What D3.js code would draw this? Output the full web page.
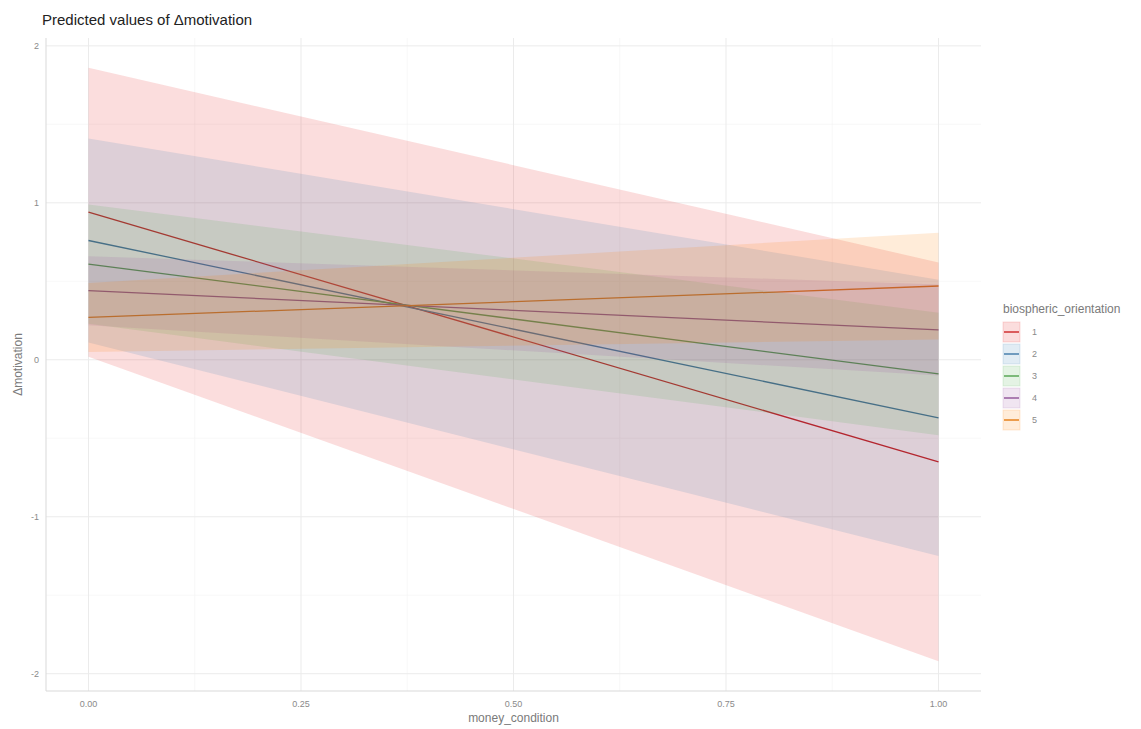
<!DOCTYPE html>
<html>
<head>
<meta charset="utf-8">
<script src="https://cdn.jsdelivr.net/npm/d3@7"></script>
<style>
  body { margin: 0; background: #fff; }
  svg { font-family: "Liberation Sans", Arial, sans-serif; }
</style>
</head>
<body>
<svg id="chart" width="1141" height="729"></svg>
<script>
// data
const moneyCondition = [0, 1];
const groups = ['1', '2', '3', '4', '5'];
const predicted = [
  [0.94, -0.65],
  [0.76, -0.37],
  [0.61, -0.09],
  [0.44, 0.19],
  [0.27, 0.47]
];
const confLow = [
  [0.02, -1.92],
  [0.11, -1.25],
  [0.23, -0.48],
  [0.22, -0.10],
  [0.05, 0.13]
];
const confHigh = [
  [1.86, 0.62],
  [1.41, 0.51],
  [0.99, 0.30],
  [0.66, 0.48],
  [0.49, 0.81]
];
const xTicks = [0, 0.25, 0.5, 0.75, 1];
const xMinor = [0.125, 0.375, 0.625, 0.875];
const yTicks = [-2, -1, 0, 1, 2];
const yMinor = [-1.5, -0.5, 0.5, 1.5];
const colors = ['#E41A1C', '#377EB8', '#4DAF4A', '#984EA3', '#FF7F00'];

const svg = d3.select('#chart');
const pLeft = 46, pRight = 981, pTop = 38, pBottom = 691;

const x = d3.scaleLinear().domain([-0.05, 1.05]).range([pLeft, pRight]);
const y = d3.scaleLinear().domain([-2.11, 2.05]).range([pBottom, pTop]);

// grid
const grid = svg.append('g');
xMinor.forEach(v => grid.append('line')
  .attr('x1', x(v)).attr('x2', x(v)).attr('y1', pTop).attr('y2', pBottom)
  .attr('stroke', '#f3f3f3').attr('stroke-width', 0.6));
yMinor.forEach(v => grid.append('line')
  .attr('x1', pLeft).attr('x2', pRight).attr('y1', y(v)).attr('y2', y(v))
  .attr('stroke', '#f3f3f3').attr('stroke-width', 0.6));
xTicks.forEach(v => grid.append('line')
  .attr('x1', x(v)).attr('x2', x(v)).attr('y1', pTop).attr('y2', pBottom)
  .attr('stroke', '#ebebeb').attr('stroke-width', 1));
yTicks.forEach(v => grid.append('line')
  .attr('x1', pLeft).attr('x2', pRight).attr('y1', y(v)).attr('y2', y(v))
  .attr('stroke', '#ebebeb').attr('stroke-width', 1));

// axis lines
svg.append('line').attr('x1', pLeft).attr('x2', pLeft).attr('y1', pTop).attr('y2', pBottom)
  .attr('stroke', '#d9d9d9');
svg.append('line').attr('x1', pLeft).attr('x2', pRight).attr('y1', pBottom).attr('y2', pBottom)
  .attr('stroke', '#d9d9d9');

// lines first, ribbons drawn over them (tints the lines like the original)
const line = d3.line().x(d => x(d.x)).y(d => y(d.y));
groups.forEach(function(g, i) {
  const pts = moneyCondition.map((m, j) => ({ x: m, y: predicted[i][j] }));
  svg.append('path')
    .datum(pts)
    .attr('d', line)
    .attr('fill', 'none')
    .attr('stroke', d3.color(colors[i]).darker(0.4))
    .attr('stroke-width', 1.3);
});

const area = d3.area()
  .x(d => x(d.x))
  .y0(d => y(d.lo))
  .y1(d => y(d.hi));

groups.forEach(function(g, i) {
  const pts = moneyCondition.map((m, j) => ({ x: m, lo: confLow[i][j], hi: confHigh[i][j] }));
  svg.append('path')
    .datum(pts)
    .attr('d', area)
    .attr('fill', colors[i])
    .attr('fill-opacity', 0.15);
});

// tick labels
xTicks.forEach(v => svg.append('text')
  .attr('x', x(v)).attr('y', 707)
  .attr('text-anchor', 'middle')
  .attr('font-size', '9px').attr('fill', '#8a8a8a')
  .text(v.toFixed(2)));
yTicks.forEach(v => svg.append('text')
  .attr('x', 39).attr('y', y(v) + 3)
  .attr('text-anchor', 'end')
  .attr('font-size', '9px').attr('fill', '#8a8a8a')
  .text(v));

// titles
svg.append('text')
  .attr('x', 42).attr('y', 25)
  .attr('font-size', '15px').attr('fill', '#222')
  .text('Predicted values of Δmotivation');
svg.append('text')
  .attr('x', (pLeft + pRight) / 2).attr('y', 722)
  .attr('text-anchor', 'middle')
  .attr('font-size', '12px').attr('fill', '#7a7a7a')
  .text('money_condition');
svg.append('text')
  .attr('transform', `translate(22, ${(pTop + pBottom) / 2}) rotate(-90)`)
  .attr('text-anchor', 'middle')
  .attr('font-size', '12px').attr('fill', '#7a7a7a')
  .text('Δmotivation');

// legend
const legend = svg.append('g').attr('transform', 'translate(1003, 310)');
legend.append('text')
  .attr('x', 0).attr('y', 3)
  .attr('font-size', '12px').attr('fill', '#7a7a7a')
  .text('biospheric_orientation');
groups.forEach(function(g, i) {
  const ky = 12 + i * 22;
  legend.append('line')
    .attr('x1', 1).attr('x2', 16).attr('y1', ky + 10).attr('y2', ky + 10)
    .attr('stroke', d3.color(colors[i]).darker(0.4)).attr('stroke-width', 1.3);
  legend.append('rect')
    .attr('x', 0).attr('y', ky).attr('width', 17).attr('height', 20)
    .attr('fill', colors[i]).attr('fill-opacity', 0.15)
    .attr('stroke', colors[i]).attr('stroke-opacity', 0.15);
  legend.append('text')
    .attr('x', 29).attr('y', ky + 13)
    .attr('font-size', '9px').attr('fill', '#8a8a8a')
    .text(g);
});
</script>
</body>
</html>
